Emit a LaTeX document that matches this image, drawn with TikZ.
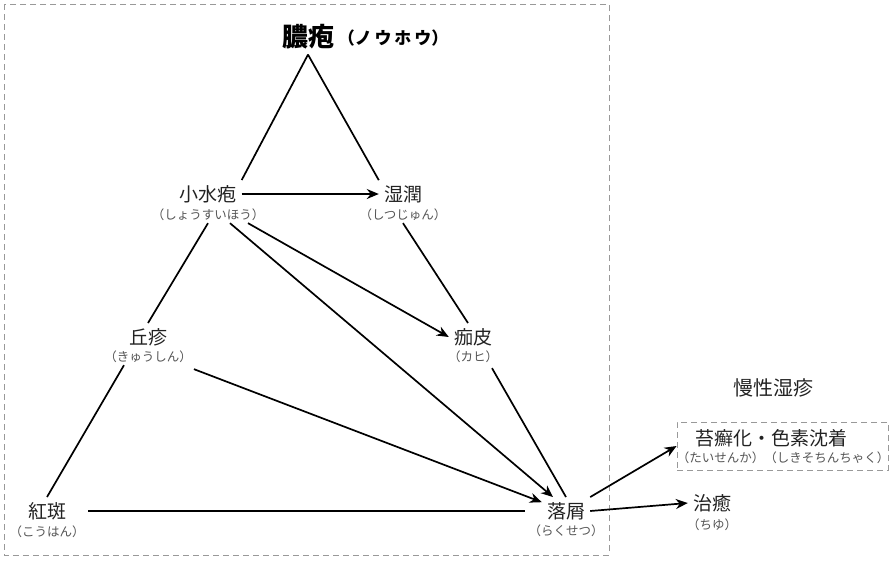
\documentclass[tikz,border=0pt]{standalone}
\usepackage{fontspec}
\setmainfont{Noto Sans CJK JP}
\usetikzlibrary{arrows.meta}
\definecolor{txt}{HTML}{222222}
\definecolor{rd}{HTML}{555555}
\definecolor{framec}{HTML}{999999}
\begin{document}
\begin{tikzpicture}[x=1pt,y=-1pt,
  lbl/.style={inner sep=5pt, text=txt, font=\fontsize{19pt}{21pt}\selectfont},
  rdg/.style={inner sep=2pt, text=rd, font=\fontsize{12.5pt}{14pt}\selectfont},
  conn/.style={line width=1.7pt, draw=black},
  arr/.style={conn, -{Stealth[length=12pt,width=10pt]}},
  dashbox/.style={draw=framec, dash pattern=on 6pt off 4pt, line width=0.9pt},
]
\useasboundingbox (0,0) rectangle (890,560);
\draw[dashbox] (4,4) rectangle (609,555);

\node[lbl, font=\bfseries\fontsize{26pt}{28pt}\selectfont, text=black] (nohou) at (308,37) {膿疱};
\node[rdg, font=\bfseries\fontsize{17pt}{19pt}\selectfont, text=black] (nohour) at (393,38) {（ノ\,ウ\,ホ\,ウ）};

\node[lbl] (shousui) at (208,194) {小水疱};
\node[rdg] (shousuir) at (208,215) {（しょうすいほう）};
\node[lbl] (shitsujun) at (403,194) {湿潤};
\node[rdg] (shitsujunr) at (403,215) {（しつじゅん）};
\node[lbl] (kyushin) at (148,337) {丘疹};
\node[rdg] (kyushinr) at (148,357) {（きゅうしん）};
\node[lbl] (kahi) at (473,337) {痂皮};
\node[rdg] (kahir) at (473,357) {（カヒ）};
\node[lbl] (kouhan) at (47,511) {紅斑};
\node[rdg] (kouhanr) at (47,532) {（こうはん）};
\node[lbl] (rakusetsu) at (566,511) {落屑};
\node[rdg] (rakusetsur) at (566,531) {（らくせつ）};
\node[lbl, font=\fontsize{20pt}{22pt}\selectfont] (mansei) at (773,388) {慢性湿疹};
\node[dashbox, minimum width=211pt, minimum height=48pt, inner sep=0pt] (tbox) at (782.5,446) {};
\node[lbl] (taisen) at (771,438) {苔癬化・色素沈着};
\node[rdg] (taisenr) at (783,458) {（たいせんか）（しきそちんちゃく）};
\node[lbl] (chiyu) at (712,503) {治癒};
\node[rdg] (chiyur) at (712,525) {（ちゆ）};

\draw[conn] (nohou.south) -- (shousui.north east);
\draw[conn] (nohou.south) -- (shitsujun.north west);
\draw[arr] (shousui.east) -- (shitsujun.west);
\draw[conn] (shousuir.south) -- (kyushin.north);
\draw[arr] ([xshift=40pt]shousuir.south) -- (kahi.west);
\draw[arr] ([xshift=22pt]shousuir.south) -- ([xshift=-13pt]rakusetsu.north);
\draw[conn] (shitsujunr.south) -- ([xshift=-5pt]kahi.north);
\draw[conn] ([xshift=-24pt]kyushinr.south) -- (kouhan.north);
\draw[arr] ([yshift=-4pt]kyushinr.south east) -- (rakusetsu.160);
\draw[conn] ([xshift=19pt,yshift=-3pt]kahir.south) -- (rakusetsu.north);
\draw[conn, shorten <=17pt, shorten >=17pt] (kouhan.east) -- (rakusetsu.west);
\draw[arr] (rakusetsu.north east) -- (tbox.west);
\draw[arr] (rakusetsu.east) -- (chiyu.west);
\end{tikzpicture}
\end{document}
